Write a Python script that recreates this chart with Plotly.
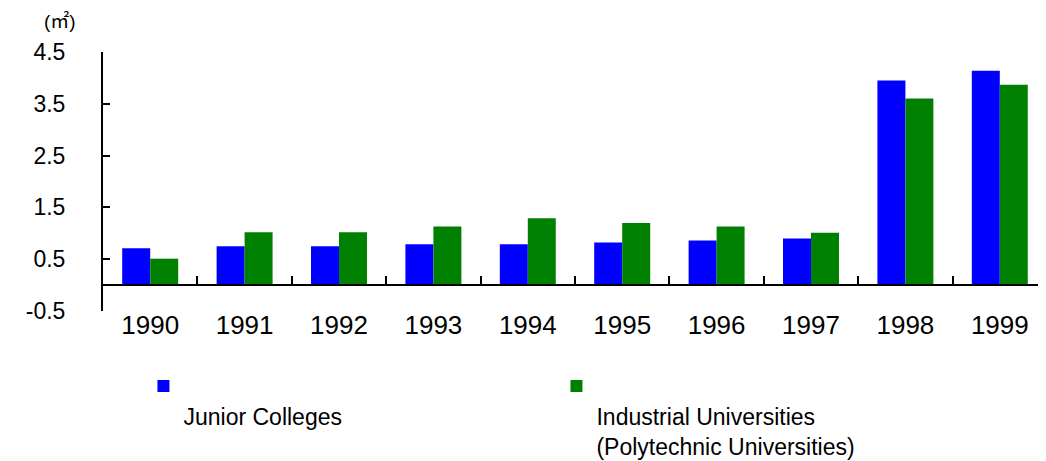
import plotly.graph_objects as go

# data (floor area per student, m2)
years = ["1990", "1991", "1992", "1993", "1994", "1995", "1996", "1997", "1998", "1999"]
junior_colleges = [0.71, 0.75, 0.75, 0.79, 0.79, 0.82, 0.86, 0.90, 3.95, 4.14]
industrial_univ = [0.51, 1.02, 1.02, 1.13, 1.29, 1.20, 1.13, 1.01, 3.60, 3.87]

y_ticks = [-0.5, 0.5, 1.5, 2.5, 3.5, 4.5]
y_tick_text = ["-0.5", "0.5", "1.5", "2.5", "3.5", "4.5"]

FONT = "Liberation Sans, Arial, sans-serif"

fig = go.Figure()
fig.add_trace(go.Bar(
    x=years, y=junior_colleges,
    name="<br>Junior Colleges",
    marker=dict(color="#0000FF", line=dict(width=0)),
))
fig.add_trace(go.Bar(
    x=years, y=industrial_univ,
    name="<br>Industrial Universities<br>(Polytechnic Universities)",
    marker=dict(color="#008000", line=dict(width=0)),
))

fig.update_layout(
    width=1046, height=461,
    margin=dict(l=95, r=7, t=44, b=158, autoexpand=False),
    paper_bgcolor="white", plot_bgcolor="white",
    font=dict(family=FONT, size=20, color="black"),
    barmode="group", bargap=0.407, bargroupgap=0,
    showlegend=True,
    legend=dict(
        orientation="h", xref="container", yref="container",
        x=0.1295, xanchor="left", y=0.2267, yanchor="top",
        valign="top", entrywidth=368, entrywidthmode="pixels",
        font=dict(family=FONT, size=23), traceorder="normal",
        bgcolor="rgba(0,0,0,0)",
    ),
    annotations=[dict(
        text="(㎡)", xref="paper", yref="paper", x=-0.0457, y=1.0,
        xanchor="center", yanchor="bottom", yshift=18, showarrow=False,
        font=dict(family="Liberation Sans, Noto Sans CJK JP", size=19),
    )],
)

# category axis drawn along y = 0, labels pushed below the plot
fig.update_xaxes(
    anchor="free", position=0.1,
    showline=True, linecolor="black", linewidth=2,
    ticks="inside", tickson="boundaries", ticklen=8, tickwidth=2, tickcolor="black",
    showgrid=False, zeroline=False,
    tickfont=dict(family=FONT, size=26), ticklabelstandoff=17,
)
fig.update_yaxes(
    range=[-0.5, 4.5], tickvals=y_ticks, ticktext=y_tick_text,
    showline=True, linecolor="black", linewidth=2,
    ticks="inside", ticklen=7, tickwidth=2, tickcolor="black",
    showgrid=False, zeroline=False,
    tickfont=dict(family=FONT, size=23), ticklabelstandoff=31,
)

fig.write_html("out.html")
